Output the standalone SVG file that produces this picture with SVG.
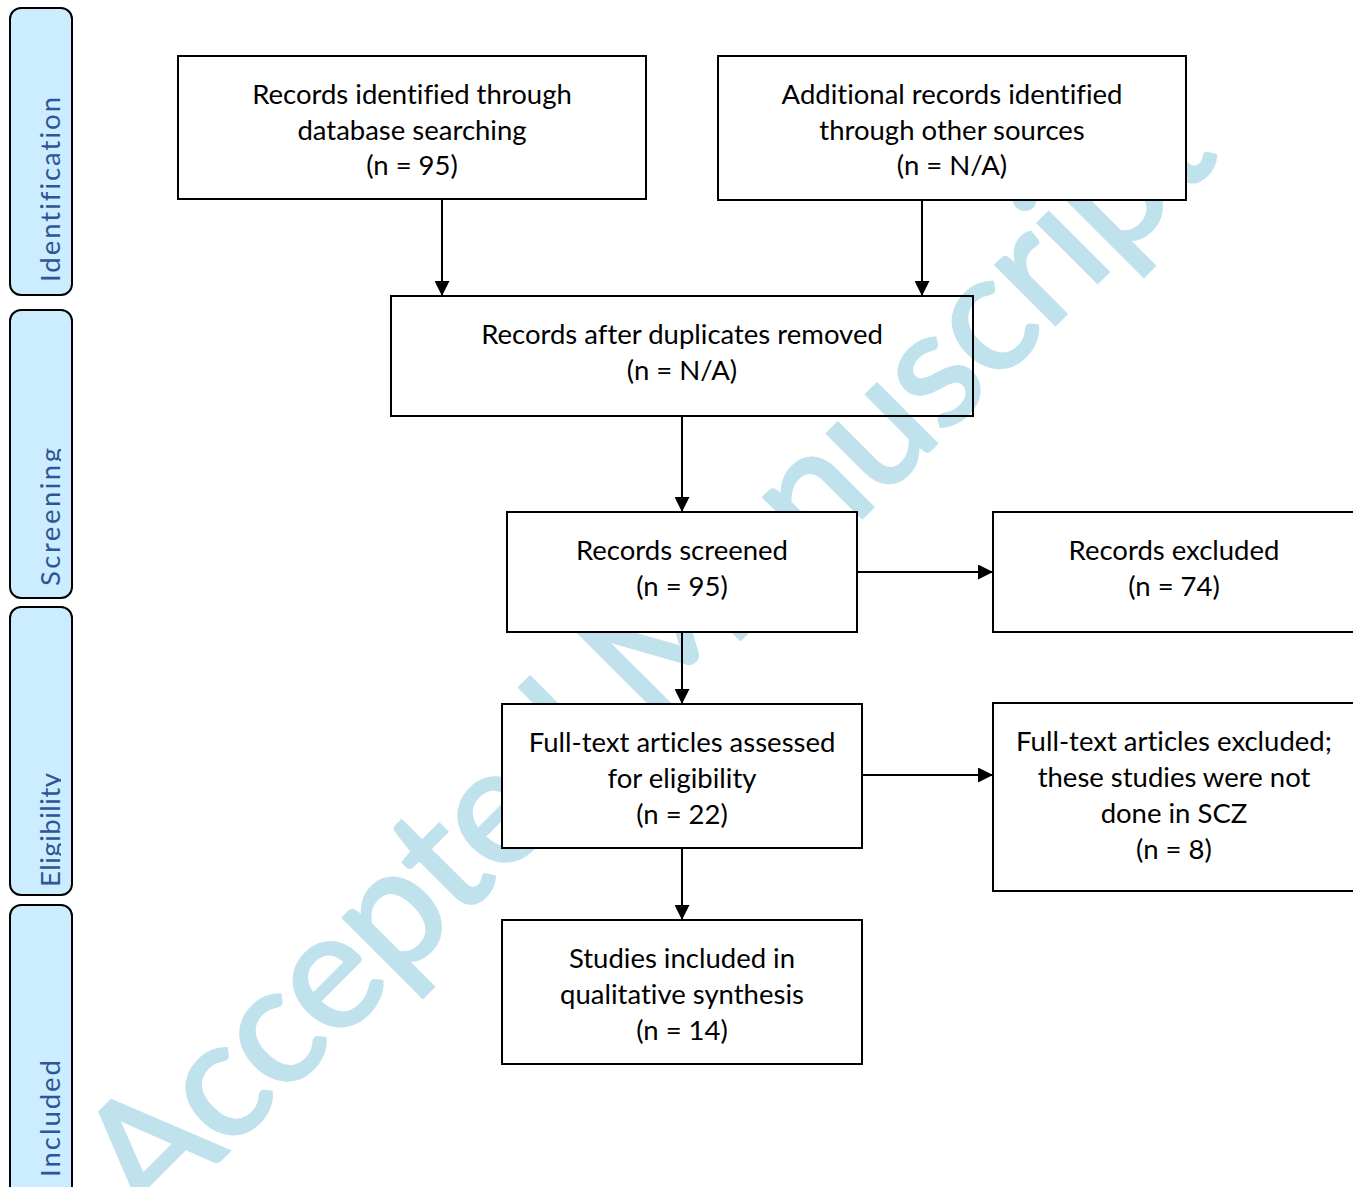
<svg xmlns="http://www.w3.org/2000/svg" width="1353" height="1187" viewBox="0 0 1353 1187">
<style>
.box{fill:#fff;stroke:#000;stroke-width:2}
.t{font-family:Lato,"Liberation Sans",sans-serif;font-size:27.5px;fill:#000;text-anchor:middle;font-variant-ligatures:none}
.side{fill:#ccecff;stroke:#000;stroke-width:2}
.st{font-family:Lato,"Liberation Sans",sans-serif;font-size:27.5px;fill:#2f5597;font-variant-ligatures:none}
.wm{font-family:Lato,"Liberation Sans",sans-serif;font-size:166px;fill:#c0e2ec;stroke:#c0e2ec;stroke-width:3}
.c{stroke:#000;stroke-width:2;fill:none;marker-end:url(#ah)}
</style>
<defs>
<marker id="ah" markerUnits="userSpaceOnUse" markerWidth="15" markerHeight="15" refX="15" refY="7.5" orient="auto">
<path d="M0,0 L15,7.5 L0,15 z" fill="#000"/>
</marker>
<clipPath id="sc"><rect x="0" y="0" width="61" height="1187"/></clipPath>
</defs>
<rect width="1353" height="1187" fill="#fff"/>

<g id="side-labels">
<g id="identification">
<rect class="side" x="10" y="8" width="62" height="287" rx="11"/>
<g clip-path="url(#sc)"><text class="st" transform="translate(60,282) rotate(-90)" textLength="185" lengthAdjust="spacing">Identification</text></g>
</g>
<g id="screening">
<rect class="side" x="10" y="310" width="62" height="288" rx="11"/>
<g clip-path="url(#sc)"><text class="st" transform="translate(60,586) rotate(-90)" textLength="138" lengthAdjust="spacing">Screening</text></g>
</g>
<g id="eligibility">
<rect class="side" x="10" y="607" width="62" height="288" rx="11"/>
<g clip-path="url(#sc)"><text class="st" transform="translate(60,887) rotate(-90)" textLength="114" lengthAdjust="spacing">Eligibility</text></g>
</g>
<g id="included">
<rect class="side" x="10" y="905" width="62" height="300" rx="11"/>
<g clip-path="url(#sc)"><text class="st" transform="translate(60,1177) rotate(-90)" textLength="117" lengthAdjust="spacing">Included</text></g>
</g>
</g>

<g id="watermark">
<text class="wm" transform="translate(150,1230) rotate(-45)" textLength="1515" lengthAdjust="spacing">Accepted Manuscript</text>
</g>

<g id="connectors">
<line class="c" x1="442" y1="199" x2="442" y2="296"/>
<line class="c" x1="922" y1="200" x2="922" y2="296"/>
<line class="c" x1="682" y1="416" x2="682" y2="512"/>
<line class="c" x1="682" y1="632" x2="682" y2="704"/>
<line class="c" x1="857" y1="572" x2="993" y2="572"/>
<line class="c" x1="862" y1="775" x2="993" y2="775"/>
<line class="c" x1="682" y1="848" x2="682" y2="920"/>
</g>

<g id="n1">
<rect class="box" x="178" y="56" width="468" height="143"/>
<text class="t" x="412" y="104">Records identified through</text>
<text class="t" x="412" y="140">database searching</text>
<text class="t" x="412" y="175">(n = 95)</text>
</g>
<g id="n2">
<rect class="box" x="718" y="56" width="468" height="144"/>
<text class="t" x="952" y="104">Additional records identified</text>
<text class="t" x="952" y="140">through other sources</text>
<text class="t" x="952" y="175">(n = N/A)</text>
</g>
<g id="n3">
<rect class="box" x="391" y="296" width="582" height="120" style="fill:none"/>
<text class="t" x="682" y="344">Records after duplicates removed</text>
<text class="t" x="682" y="380">(n = N/A)</text>
</g>
<g id="n4">
<rect class="box" x="507" y="512" width="350" height="120"/>
<text class="t" x="682" y="560">Records screened</text>
<text class="t" x="682" y="596">(n = 95)</text>
</g>
<g id="n5">
<rect class="box" x="993" y="512" width="372" height="120"/>
<text class="t" x="1174" y="560">Records excluded</text>
<text class="t" x="1174" y="596">(n = 74)</text>
</g>
<g id="n6">
<rect class="box" x="502" y="704" width="360" height="144"/>
<text class="t" x="682" y="752">Full-text articles assessed</text>
<text class="t" x="682" y="788">for eligibility</text>
<text class="t" x="682" y="824">(n = 22)</text>
</g>
<g id="n7">
<rect class="box" x="993" y="703" width="372" height="188"/>
<text class="t" x="1174" y="751">Full-text articles excluded;</text>
<text class="t" x="1174" y="787">these studies were not</text>
<text class="t" x="1174" y="823">done in SCZ</text>
<text class="t" x="1174" y="859">(n = 8)</text>
</g>
<g id="n8">
<rect class="box" x="502" y="920" width="360" height="144"/>
<text class="t" x="682" y="968">Studies included in</text>
<text class="t" x="682" y="1004">qualitative synthesis</text>
<text class="t" x="682" y="1040">(n = 14)</text>
</g>
</svg>
